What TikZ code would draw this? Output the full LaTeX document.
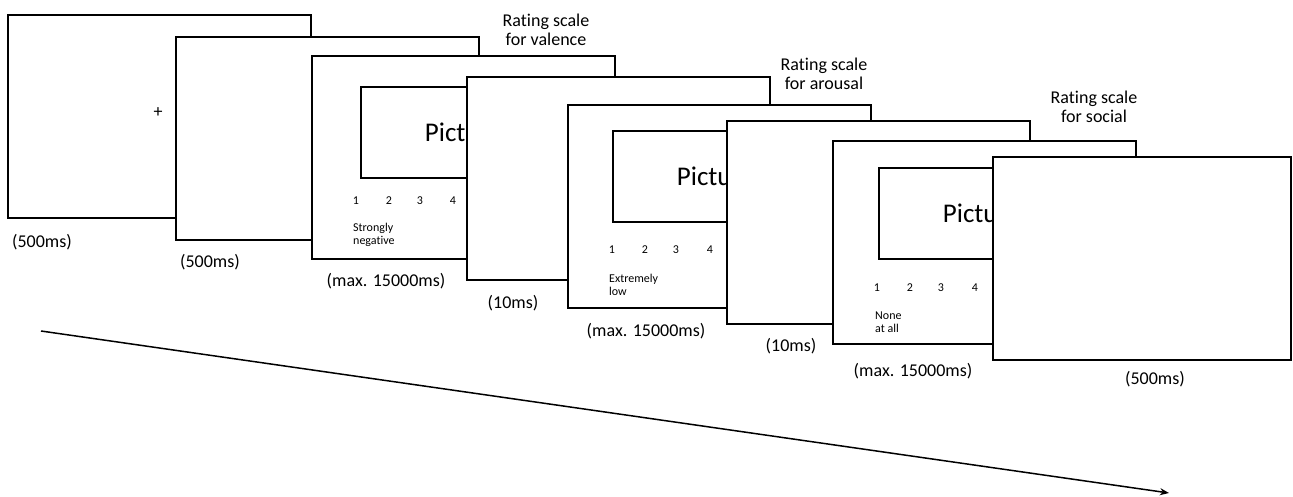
\documentclass[tikz,border=0pt]{standalone}
\usepackage{fontspec}
\setmainfont[Ligatures=NoCommon]{Carlito}
\usetikzlibrary{calc,arrows.meta}
\begin{document}
\begin{tikzpicture}[x=1pt,y=-1pt,
 screen/.style={draw, line width=1.8pt, fill=white, minimum width=303pt, minimum height=203pt, inner sep=0pt, outer sep=0pt, anchor=north west},
 picbox/.style={draw, line width=1.8pt, fill=white, minimum width=205pt, minimum height=91pt, inner sep=0pt, outer sep=0pt, anchor=north west, font=\fontsize{27}{30}\selectfont},
 lbl/.style={inner sep=0pt, font=\fontsize{18}{19}\selectfont, align=center},
 dur/.style={inner sep=0pt, font=\fontsize{18}{20}\selectfont},
 num/.style={inner sep=0pt, font=\fontsize{12}{13}\selectfont},
 anch/.style={inner sep=0pt, font=\fontsize{12}{13}\selectfont, align=left, anchor=west}]
\useasboundingbox (0,0) rectangle (1293,497);

% screen 1: fixation
\node[screen] (b1) at (8,15) {};
\node[lbl] (fix) at (158,113) {+};
% screen 2: blank
\node[screen] (b2) at (176,37) {};
% screen 3: valence rating
\node[screen] (b3) at (312,56) {};
\node[picbox] (p3) at ($(b3.north west)+(49,31)$) {Picture};
\node[num] (b3n1) at ($(b3.north west)+(44,145)$) {1};
\node[num] (b3n2) at ($(b3.north west)+(77,145)$) {2};
\node[num] (b3n3) at ($(b3.north west)+(108,145)$) {3};
\node[num] (b3n4) at ($(b3.north west)+(141,145)$) {4};
\node[anch] (b3a) at ($(b3.north west)+(41,179)$) {Strongly\\negative};
% screen 4: blank
\node[screen] (b4) at (467,77) {};
% screen 5: arousal rating
\node[screen] (b5) at (568,105) {};
\node[picbox] (p5) at ($(b5.north west)+(45,26)$) {Picture};
\node[num] (b5n1) at ($(b5.north west)+(44,145)$) {1};
\node[num] (b5n2) at ($(b5.north west)+(77,145)$) {2};
\node[num] (b5n3) at ($(b5.north west)+(108,145)$) {3};
\node[num] (b5n4) at ($(b5.north west)+(142,145)$) {4};
\node[anch] (b5a) at ($(b5.north west)+(41,180)$) {Extremely\\low};
% screen 6: blank
\node[screen] (b6) at (727,121) {};
% screen 7: social rating
\node[screen] (b7) at (833,141) {};
\node[picbox] (p7) at ($(b7.north west)+(46,27)$) {Picture};
\node[num] (b7n1) at ($(b7.north west)+(44,147)$) {1};
\node[num] (b7n2) at ($(b7.north west)+(77,147)$) {2};
\node[num] (b7n3) at ($(b7.north west)+(108,147)$) {3};
\node[num] (b7n4) at ($(b7.north west)+(142,147)$) {4};
\node[anch] (b7a) at ($(b7.north west)+(42,181)$) {None\\at all};
% screen 8: blank
\node[screen, minimum width=298pt] (b8) at (993,157) {};

% rating scale titles
\node[lbl] (t3) at (546,30) {Rating scale\\for valence};
\node[lbl] (t5) at (824,74) {Rating scale\\for arousal};
\node[lbl] (t7) at (1094,107) {Rating scale\\for social};

% durations
\node[dur] (d1) at (42,242) {(500ms)};
\node[dur] (d2) at (210,262) {(500ms)};
\node[dur] (d3) at (386,281) {(max. 15000ms)};
\node[dur] (d4) at (513,303) {(10ms)};
\node[dur] (d5) at (646,331) {(max. 15000ms)};
\node[dur] (d6) at (791,346) {(10ms)};
\node[dur] (d7) at (913,371) {(max. 15000ms)};
\node[dur] (d8) at (1155,379) {(500ms)};

% time arrow
\coordinate (ts) at (41,331);
\coordinate (te) at (1169,493);
\draw[line width=1.5pt, -{Stealth[length=9pt,width=7pt]}] (ts) -- (te);
\end{tikzpicture}
\end{document}
